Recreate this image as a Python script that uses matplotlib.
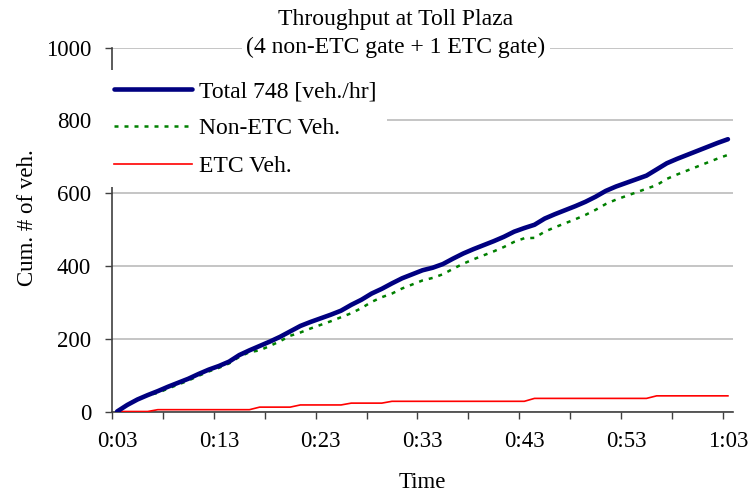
import matplotlib
matplotlib.use("Agg")
import matplotlib.pyplot as plt
import numpy as np

plt.rcParams['font.family'] = ['Liberation Serif', 'DejaVu Serif']

# cumulative vehicles per minute, 0:03 .. 1:03
total = [0, 18, 33, 45, 56, 68, 79, 90, 103, 115,
         125, 137, 155, 168, 180, 192, 205, 220, 235, 246,
         256, 266, 277, 293, 307, 324, 337, 352, 366, 377,
         388, 395, 405, 420, 434, 446, 457, 468, 480, 494,
         504, 513, 530, 542, 553, 564, 576, 590, 606, 618,
         628, 638, 648, 665, 682, 694, 705, 716, 727, 738,
         748]
etc = [0, 0, 0, 0, 5, 5, 5, 5, 5, 5,
       5, 5, 5, 5, 12, 12, 12, 12, 18, 18,
       18, 18, 18, 23, 23, 23, 23, 28, 28, 28,
       28, 28, 28, 28, 28, 28, 28, 28, 28, 28,
       28, 36, 36, 36, 36, 36, 36, 36, 36, 36,
       36, 36, 36, 43, 43, 43, 43, 43, 43, 43,
       43]
non_etc = [t - e for t, e in zip(total, etc)]
time_labels = ["0:03", "0:13", "0:23", "0:33", "0:43", "0:53", "1:03"]

W, H = 749, 492
fig = plt.figure(figsize=(W / 100, H / 100), dpi=100)
ax = fig.add_axes([112 / W, 1 - 411.5 / H, (733 - 112) / W, (411.5 - 47.5) / H])

x = np.arange(len(total)) + 0.5  # category centres
ax.plot(x, total, color='#000080', lw=3.3, solid_capstyle='round',
        label='Total 748 [veh./hr]', zorder=4)
ax.plot(x, non_etc, color='#008000', lw=1.8, linestyle=(0, (1.6, 2.4)),
        label='Non-ETC Veh.', zorder=3)
ax.plot(x, etc, color='#FF0000', lw=1.2, label='ETC Veh.', zorder=3)

ax.set_xlim(0, len(total))
ax.set_ylim(0, 1000)
ax.set_yticks(range(0, 1001, 200))
ax.yaxis.grid(True, color='#c0c0c0', lw=1.3)
ax.set_axisbelow(True)

ax.set_xticks(np.arange(0, len(total), 10) + 0.5)
ax.set_xticklabels(time_labels)
ax.set_xticks(np.arange(0, len(total), 5), minor=True)
ax.tick_params(axis='x', which='major', length=0, pad=14, labelsize=16.5)
ax.tick_params(axis='x', which='minor', length=5, width=1, color='#404040')
ax.tick_params(axis='y', length=5, width=1, color='#404040', pad=10, labelsize=16.5)

for s in ['top', 'right']:
    ax.spines[s].set_visible(False)
for s in ['left', 'bottom']:
    ax.spines[s].set_color('#404040')
    ax.spines[s].set_linewidth(1.2)

leg = ax.legend(loc='upper left', bbox_to_anchor=(103 / W, 1 - 70 / H),
                bbox_transform=fig.transFigure, fontsize=17,
                handlelength=3.3, handletextpad=0.3, labelspacing=0.67,
                borderpad=0.45, borderaxespad=0, frameon=True, fancybox=False)
leg.get_frame().set_facecolor('white')
leg.get_frame().set_edgecolor('none')
leg.get_frame().set_alpha(1)

fig.text(396 / W, 1 - 19 / H, 'Throughput at Toll Plaza', ha='center', va='center', fontsize=17)
fig.text(396 / W, 1 - 47 / H, '(4 non-ETC gate + 1 ETC gate)', ha='center', va='center',
         fontsize=17, bbox=dict(facecolor='white', edgecolor='none', pad=3), zorder=10)
fig.text(28 / W, 1 - 218 / H, 'Cum. # of veh.', rotation=90, ha='center', va='center', fontsize=16.5)
fig.text(422 / W, 1 - 482 / H, 'Time', ha='center', va='center', fontsize=16.5)

fig.savefig('out.png', dpi=100)
